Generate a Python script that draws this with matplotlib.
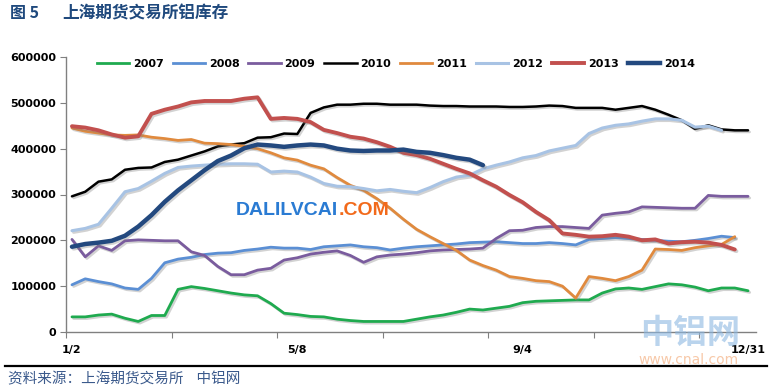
import numpy as np
import matplotlib
matplotlib.use("Agg")
import matplotlib.pyplot as plt
from matplotlib import patheffects as pe
from matplotlib.lines import Line2D

plt.rcParams['font.family'] = ['DejaVu Sans', 'Noto Sans CJK SC']

# weekly inventory, thousand tonnes (week 0 = 1/2 ... week 51 = 12/31)
nan = np.nan
y2007 = [33, 33, 37, 39, 30, 23, 36, 36, 93, 99, 95, 90, 85, 81, 79, 62, 41, 38, 34, 33,
         28, 25, 23, 23, 23, 23, 28, 33, 37, 43, 50, 48, 52, 56, 64, 67, 68, 69, 70, 70,
         85, 94, 96, 93, 99, 105, 103, 98, 90, 96, 96, 90]
y2008 = [103, 116, 110, 105, 96, 93, 117, 151, 159, 163, 169, 172, 173, 178, 181, 185, 183, 183, 180, 186,
         188, 190, 186, 184, 179, 183, 186, 188, 190, 192, 195, 196, 197, 195, 193, 193, 195, 193, 190, 202,
         204, 206, 204, 202, 200, 198, 197, 200, 204, 209, 206, nan]
y2009 = [202, 164, 188, 178, 199, 201, 200, 199, 199, 175, 167, 143, 125, 125, 135, 139, 157, 162, 170, 174,
         177, 167, 152, 164, 168, 170, 173, 177, 179, 180, 181, 183, 204, 221, 222, 228, 230, 230, 228, 226,
         255, 259, 262, 273, 272, 271, 270, 270, 298, 296, 296, 296]
y2010 = [296, 306, 328, 333, 354, 358, 359, 371, 376, 385, 394, 405, 409, 412, 424, 425, 433, 432, 478, 490,
         496, 496, 498, 498, 496, 496, 496, 494, 493, 493, 492, 492, 492, 491, 491, 492, 494, 493, 489, 489,
         489, 485, 489, 493, 485, 474, 462, 443, 451, 442, 440, 440]
y2011 = [445, 438, 434, 430, 429, 430, 425, 422, 418, 420, 412, 411, 409, 405, 400, 391, 380, 375, 364, 356,
         337, 320, 309, 291, 270, 246, 224, 208, 193, 178, 157, 145, 135, 121, 117, 112, 110, 100, 74, 121,
         117, 112, 121, 135, 181, 180, 178, 184, 188, 191, 208, nan]
y2012 = [221, 226, 235, 270, 306, 313, 329, 346, 359, 362, 364, 366, 367, 367, 366, 349, 351, 349, 338, 324,
         318, 317, 313, 308, 311, 307, 304, 315, 328, 338, 342, 356, 364, 371, 380, 385, 395, 401, 407, 433,
         445, 451, 454, 460, 465, 465, 462, 447, 449, 440, nan, nan]
y2013 = [449, 446, 440, 431, 424, 427, 476, 485, 492, 501, 504, 504, 504, 509, 512, 465, 467, 465, 458, 441,
         434, 426, 422, 414, 404, 391, 386, 378, 367, 356, 346, 331, 317, 299, 283, 262, 244, 215, 212, 208,
         209, 212, 208, 200, 202, 193, 196, 197, 195, 190, 180, nan]
y2014 = [186, 192, 195, 199, 210, 230, 255, 284, 309, 331, 353, 373, 385, 401, 409, 407, 404, 407, 409, 407,
         400, 396, 395, 396, 396, 398, 393, 391, 386, 380, 376, 364] + [nan] * 20

years = ['2007', '2008', '2009', '2010', '2011', '2012', '2013', '2014']
series = [y2007, y2008, y2009, y2010, y2011, y2012, y2013, y2014]
colors = ['#1FAA4F', '#5B8FD4', '#7A5C9E', '#000000', '#E08A3E', '#A8C3E4', '#C2504E', '#23497F']
widths = [2.0, 2.0, 2.0, 1.8, 2.0, 2.2, 2.8, 3.2]

x_labels = ['1/2', '5/8', '9/4', '12/31']
x_label_pos = [0, 17, 34, 51]
weeks = np.arange(52)

fig = plt.figure(figsize=(7.69, 3.91), dpi=100)
ax = fig.add_axes([66 / 769, 1 - 332 / 391, 690 / 769, 275 / 391])

shadow = [pe.SimpleLineShadow(offset=(1.2, -1.2), shadow_color='#808080', alpha=0.35), pe.Normal()]
for vals, c, lw in zip(series, colors, widths):
    ax.plot(weeks, np.array(vals, dtype=float) * 1000, color=c, lw=lw,
            solid_capstyle='round', path_effects=shadow)

ax.set_ylim(0, 600000)
ax.set_xlim(-0.45, 51.6)
yt = np.arange(0, 600001, 100000)
ax.set_yticks(yt)
ax.set_yticklabels([str(v) for v in yt], fontsize=8, fontweight='bold')
ax.set_xticks(-0.45 + np.arange(7) * 7.96)
ax.set_xticklabels([])
ax.set_xticks(x_label_pos, minor=True)
ax.set_xticklabels(x_labels, minor=True, fontsize=8, fontweight='bold')
ax.tick_params(axis='x', which='minor', length=0, pad=9)
ax.tick_params(axis='x', which='major', length=4, color='#808080', direction='out')
ax.tick_params(axis='y', length=4, color='#808080', direction='out', pad=3)
for s in ['top', 'right']:
    ax.spines[s].set_visible(False)
for s in ['left', 'bottom']:
    ax.spines[s].set_color('#808080')
    ax.spines[s].set_linewidth(1.0)

handles = [Line2D([], [], color=c, lw=lw) for c, lw in zip(colors, widths)]
ax.legend(handles, years, loc='center', bbox_to_anchor=(0.478, 0.975), ncol=8,
          frameon=False, handlelength=2.9, handletextpad=0.35, columnspacing=0.8,
          prop={'size': 8, 'weight': 'bold'})

# watermarks
fig.text(236 / 769, 1 - 211 / 391, 'DALILVCAI', color='#2A7BD3', fontsize=14,
         fontweight='bold', family='Liberation Sans', ha='left', va='center')
fig.text(339 / 769, 1 - 211 / 391, '.COM', color='#F26A1B', fontsize=14,
         fontweight='bold', family='Liberation Sans', ha='left', va='center')
fig.text(690 / 769, 1 - 334 / 391, '中铝网', color='#8DB8E2', alpha=0.6, fontsize=24,
         fontweight='bold', family='Noto Sans CJK SC', ha='center', va='center', zorder=0)
fig.text(688 / 769, 1 - 360 / 391, 'www.cnal.com', color='#F4B183', alpha=0.7, fontsize=10,
         ha='center', va='center', zorder=0)

# title and source
fig.text(10 / 769, 1 - 13 / 391, '图 5', color='#1F497D', fontsize=11.5,
         fontweight='bold', family='Noto Sans CJK SC', ha='left', va='center')
fig.text(62 / 769, 1 - 13 / 391, '上海期货交易所铝库存', color='#1F497D', fontsize=12,
         fontweight='bold', family='Noto Sans CJK SC', ha='left', va='center')
fig.add_artist(Line2D([5 / 769, 767 / 769], [1 - 366 / 391, 1 - 366 / 391],
                      color='black', lw=1.6))
fig.text(8 / 769, 1 - 379 / 391, '资料来源：上海期货交易所    中铝网', color='#3B5A8C',
         fontsize=10.5, family='Noto Sans CJK SC', ha='left', va='center')

fig.savefig('out.png', dpi=100)
